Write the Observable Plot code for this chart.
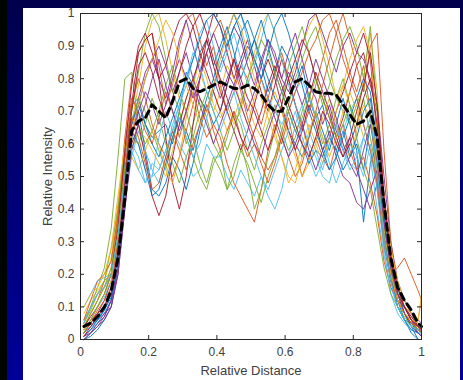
<!DOCTYPE html>
<html>
<head>
<meta charset="utf-8">
<script src="https://cdn.jsdelivr.net/npm/d3@7"></script>
<script src="https://cdn.jsdelivr.net/npm/@observablehq/plot@0.6"></script>
<style>
  html, body { margin: 0; padding: 0; }
  body { width: 463px; height: 380px; position: relative; overflow: hidden;
         background: linear-gradient(to bottom, #00004c 0%, #000070 40%, #000098 100%); }
  #strip { position: absolute; left: 0; top: 0; width: 7px; height: 380px; background: #000500; }
  #panel { position: absolute; left: 23px; top: 8px; width: 437px; height: 372px; background: #fff; }
  #chart { position: absolute; left: 0; top: 0; }
  svg { display: block; }
</style>
</head>
<body>
<div id="strip"></div>
<div id="panel"></div>
<div id="chart"></div>
<script>
const xPos = [0.01,0.03,0.05,0.07,0.09,0.11,0.13,0.15,0.17,0.19,
              0.21,0.23,0.25,0.27,0.29,0.31,0.33,0.35,0.37,0.39,
              0.41,0.43,0.45,0.47,0.49,0.51,0.53,0.55,0.57,0.59,
              0.61,0.63,0.65,0.67,0.69,0.71,0.73,0.75,0.77,0.79,
              0.81,0.83,0.85,0.87,0.89,0.91,0.93,0.95,0.97,0.99,1.0];

const meanProfile = [0.04,0.05,0.07,0.10,0.15,0.25,0.43,0.64,0.67,0.68,
                     0.72,0.70,0.68,0.73,0.79,0.80,0.77,0.76,0.77,0.78,
                     0.79,0.78,0.77,0.77,0.78,0.77,0.75,0.72,0.70,0.70,
                     0.74,0.79,0.80,0.78,0.76,0.755,0.755,0.75,0.72,0.69,
                     0.66,0.67,0.70,0.62,0.42,0.25,0.16,0.12,0.09,0.05,0.04];

const lineColors = ["#0072BD","#D95319","#EDB120","#7E2F8E","#77AC30","#4DBEEE","#A2142F"];

const profiles = [
 [0.02,0.04,0.06,0.09,0.14,0.30,0.55,0.72,0.74,0.66, 0.62,0.64,0.66,0.60,0.70,0.82,0.78,0.88,0.92,0.84, 0.90,0.96,0.88,0.80,0.86,0.92,0.84,0.76,0.82,0.90, 0.86,0.78,0.84,0.74,0.68,0.72,0.62,0.58,0.64,0.56, 0.60,0.52,0.66,0.58,0.38,0.22,0.12,0.06,0.05,0.02, 0.01],
 [0.05,0.10,0.14,0.16,0.20,0.38,0.62,0.80,0.88,0.92, 0.94,0.84,0.72,0.78,0.90,0.98,1.00,0.92,0.84,0.90, 0.78,0.70,0.76,0.84,0.80,0.72,0.66,0.74,0.82,0.88, 0.80,0.72,0.64,0.70,0.78,0.86,0.94,0.98,0.90,0.82, 0.76,0.84,0.70,0.46,0.28,0.20,0.22,0.25,0.20,0.15, 0.12],
 [0.08,0.12,0.15,0.18,0.25,0.42,0.58,0.66,0.78,0.90, 0.98,1.00,0.92,0.82,0.74,0.70,0.78,0.86,0.80,0.72, 0.68,0.72,0.66,0.70,0.80,0.88,0.96,1.00,0.94,0.86, 0.78,0.84,0.90,0.96,1.00,0.92,0.84,0.74,0.78,0.72, 0.66,0.80,0.94,0.76,0.42,0.26,0.16,0.12,0.08,0.06, 0.12],
 [0.01,0.03,0.05,0.07,0.12,0.24,0.48,0.66,0.74,0.82, 0.86,0.80,0.74,0.82,0.92,0.98,0.90,0.82,0.88,0.80, 0.74,0.80,0.86,0.78,0.70,0.76,0.84,0.92,0.86,0.80, 0.88,0.94,0.86,0.78,0.74,0.66,0.72,0.64,0.58,0.62, 0.52,0.46,0.40,0.48,0.34,0.20,0.14,0.10,0.08,0.04, 0.03],
 [0.06,0.10,0.16,0.22,0.34,0.56,0.80,0.82,0.66,0.60, 0.64,0.58,0.52,0.62,0.70,0.60,0.66,0.74,0.68,0.60, 0.56,0.62,0.70,0.66,0.58,0.52,0.60,0.66,0.72,0.64, 0.58,0.62,0.70,0.76,0.68,0.60,0.66,0.74,0.80,0.72, 0.66,0.74,0.62,0.50,0.30,0.18,0.12,0.10,0.07,0.05, 0.04],
 [0.10,0.14,0.18,0.19,0.20,0.30,0.48,0.62,0.60,0.52, 0.50,0.52,0.58,0.64,0.60,0.56,0.50,0.52,0.60,0.56, 0.56,0.50,0.46,0.52,0.48,0.44,0.50,0.44,0.40,0.46, 0.56,0.66,0.72,0.64,0.58,0.52,0.60,0.66,0.58,0.54, 0.52,0.62,0.56,0.40,0.26,0.16,0.10,0.08,0.06,0.04, 0.05],
 [0.03,0.06,0.08,0.10,0.16,0.28,0.50,0.72,0.88,0.92, 0.94,0.80,0.62,0.48,0.40,0.50,0.66,0.80,0.92,1.00, 0.96,0.88,0.80,0.86,0.92,0.84,0.76,0.70,0.78,0.86, 0.80,0.72,0.66,0.74,0.82,0.76,0.70,0.62,0.68,0.76, 0.84,0.88,0.78,0.70,0.44,0.24,0.14,0.10,0.07,0.04, 0.02],
 [0.00,0.02,0.05,0.08,0.12,0.26,0.50,0.68,0.70,0.58, 0.46,0.44,0.48,0.56,0.52,0.46,0.54,0.64,0.72,0.66, 0.70,0.78,0.86,0.94,0.98,0.92,0.86,0.80,0.74,0.70, 0.64,0.60,0.56,0.62,0.70,0.64,0.58,0.66,0.74,0.66, 0.58,0.36,0.54,0.60,0.40,0.24,0.16,0.08,0.04,0.00, 0.00],
 [0.03,0.08,0.12,0.18,0.20,0.36,0.60,0.74,0.70,0.64, 0.60,0.68,0.76,0.70,0.62,0.70,0.76,0.68,0.62,0.66, 0.62,0.54,0.48,0.44,0.40,0.36,0.46,0.58,0.66,0.60, 0.68,0.58,0.50,0.56,0.62,0.56,0.52,0.60,0.66,0.58, 0.52,0.56,0.48,0.38,0.24,0.16,0.12,0.08,0.06,0.03, 0.02],
 [0.04,0.08,0.12,0.16,0.22,0.40,0.52,0.58,0.64,0.62, 0.58,0.54,0.50,0.58,0.66,0.74,0.80,0.74,0.70,0.76, 0.70,0.64,0.68,0.74,0.72,0.66,0.62,0.70,0.76,0.70, 0.62,0.56,0.50,0.54,0.60,0.68,0.74,0.66,0.60,0.56, 0.64,0.72,0.68,0.52,0.36,0.22,0.14,0.10,0.08,0.05, 0.04],
 [0.02,0.04,0.06,0.08,0.10,0.20,0.40,0.62,0.72,0.80, 0.86,0.90,0.84,0.76,0.82,0.88,0.80,0.74,0.70,0.78, 0.84,0.90,0.96,0.92,0.84,0.78,0.86,0.92,0.88,0.80, 0.76,0.82,0.90,0.98,1.00,0.94,0.88,0.82,0.90,0.94, 0.88,0.86,0.80,0.72,0.50,0.30,0.18,0.12,0.08,0.06, 0.05],
 [0.05,0.09,0.14,0.18,0.28,0.40,0.60,0.70,0.82,0.94, 1.00,0.96,0.86,0.76,0.70,0.62,0.56,0.50,0.46,0.54, 0.58,0.46,0.54,0.60,0.52,0.40,0.46,0.56,0.64,0.72, 0.84,0.90,0.96,0.88,0.80,0.72,0.78,0.86,0.92,0.96, 0.90,0.80,0.96,0.70,0.40,0.22,0.14,0.10,0.06,0.03, 0.02],
 [0.02,0.04,0.06,0.10,0.14,0.24,0.42,0.56,0.64,0.58, 0.52,0.48,0.56,0.66,0.72,0.78,0.86,0.94,0.98,0.90, 0.82,0.88,0.94,0.86,0.78,0.84,0.92,1.00,0.94,0.86, 0.78,0.72,0.66,0.60,0.56,0.50,0.48,0.56,0.64,0.70, 0.74,0.66,0.58,0.46,0.30,0.18,0.12,0.08,0.06,0.04, 0.03],
 [0.02,0.05,0.08,0.12,0.18,0.30,0.46,0.60,0.66,0.56, 0.44,0.38,0.44,0.56,0.66,0.74,0.80,0.86,0.92,0.84, 0.76,0.70,0.64,0.58,0.64,0.72,0.80,0.86,0.80,0.72, 0.64,0.58,0.64,0.72,0.66,0.58,0.62,0.70,0.76,0.82, 0.88,0.94,0.86,0.62,0.36,0.20,0.12,0.08,0.05,0.03, 0.02],
 [0.00,0.01,0.03,0.06,0.10,0.22,0.44,0.64,0.60,0.52, 0.44,0.46,0.54,0.62,0.68,0.64,0.58,0.66,0.74,0.80, 0.88,0.94,1.00,0.94,0.86,0.92,0.98,0.90,0.82,0.76, 0.70,0.64,0.60,0.54,0.58,0.56,0.62,0.58,0.52,0.56, 0.62,0.70,0.74,0.56,0.38,0.20,0.10,0.06,0.02,0.00, 0.00],
 [0.06,0.12,0.18,0.20,0.24,0.38,0.56,0.72,0.80,0.74, 0.66,0.60,0.56,0.50,0.56,0.64,0.72,0.80,0.88,0.94, 0.98,0.92,0.84,0.76,0.68,0.62,0.56,0.52,0.56,0.62, 0.56,0.50,0.54,0.62,0.70,0.78,0.86,0.94,1.00,0.92, 0.84,0.76,0.90,0.94,0.58,0.30,0.16,0.10,0.06,0.04, 0.03],
 [0.10,0.14,0.16,0.20,0.28,0.44,0.60,0.56,0.52,0.58, 0.64,0.60,0.52,0.48,0.56,0.68,0.76,0.82,0.76,0.70, 0.76,0.84,0.80,0.72,0.66,0.74,0.80,0.72,0.64,0.56, 0.48,0.52,0.60,0.66,0.60,0.54,0.62,0.70,0.78,0.86, 0.92,0.96,0.88,0.64,0.44,0.28,0.18,0.12,0.08,0.06, 0.14],
 [0.01,0.02,0.04,0.07,0.12,0.22,0.44,0.62,0.70,0.76, 0.72,0.66,0.72,0.80,0.86,0.80,0.74,0.80,0.88,0.94, 0.88,0.82,0.78,0.84,0.90,0.86,0.80,0.74,0.68,0.62, 0.56,0.60,0.66,0.58,0.52,0.58,0.64,0.56,0.50,0.48, 0.42,0.40,0.46,0.52,0.30,0.18,0.12,0.10,0.06,0.02, 0.01],
 [0.04,0.08,0.12,0.16,0.22,0.34,0.50,0.66,0.74,0.70, 0.64,0.70,0.78,0.84,0.76,0.70,0.62,0.54,0.48,0.56, 0.52,0.46,0.50,0.58,0.54,0.48,0.42,0.50,0.56,0.64, 0.72,0.80,0.86,0.92,0.96,0.88,0.80,0.74,0.70,0.66, 0.72,0.78,0.70,0.54,0.32,0.20,0.14,0.08,0.05,0.03, 0.02],
 [0.03,0.06,0.10,0.13,0.18,0.28,0.46,0.60,0.56,0.48, 0.54,0.52,0.58,0.64,0.68,0.62,0.56,0.60,0.68,0.76, 0.84,0.90,0.96,1.00,0.92,0.86,0.80,0.74,0.70,0.66, 0.70,0.76,0.80,0.74,0.68,0.62,0.54,0.48,0.54,0.60, 0.56,0.50,0.60,0.48,0.28,0.14,0.08,0.05,0.03,0.02, 0.02],
 [0.04,0.07,0.10,0.14,0.20,0.34,0.58,0.78,0.90,0.94, 0.88,0.80,0.84,0.92,0.98,1.00,0.96,0.88,0.82,0.76, 0.70,0.78,0.86,0.80,0.74,0.70,0.64,0.58,0.64,0.72, 0.80,0.86,0.92,0.88,0.80,0.74,0.68,0.62,0.56,0.60, 0.66,0.74,0.80,0.66,0.42,0.24,0.14,0.10,0.06,0.04, 0.03],
 [0.01,0.03,0.06,0.09,0.13,0.26,0.48,0.66,0.72,0.66, 0.60,0.56,0.62,0.68,0.74,0.80,0.86,0.92,0.98,1.00, 0.96,0.90,0.96,1.00,0.94,0.86,0.80,0.88,0.96,1.00, 0.94,0.86,0.78,0.70,0.64,0.58,0.52,0.56,0.62,0.68, 0.74,0.80,0.76,0.60,0.34,0.18,0.10,0.06,0.03,0.02, 0.01],
 [0.02,0.05,0.09,0.12,0.16,0.30,0.52,0.68,0.62,0.54, 0.46,0.48,0.56,0.64,0.58,0.52,0.60,0.66,0.72,0.64, 0.58,0.64,0.70,0.62,0.56,0.60,0.54,0.48,0.54,0.62, 0.70,0.76,0.82,0.88,0.92,0.98,1.00,0.94,0.86,0.80, 0.74,0.66,0.58,0.48,0.30,0.18,0.12,0.08,0.05,0.04, 0.03],
 [0.03,0.06,0.10,0.14,0.18,0.32,0.50,0.64,0.72,0.80, 0.86,0.92,0.98,0.94,0.86,0.78,0.72,0.66,0.70,0.78, 0.86,0.94,1.00,0.96,0.88,0.80,0.74,0.68,0.62,0.56, 0.50,0.48,0.56,0.64,0.70,0.62,0.56,0.62,0.70,0.76, 0.70,0.62,0.68,0.56,0.34,0.20,0.12,0.08,0.06,0.05, 0.04],
 [0.00,0.02,0.04,0.06,0.10,0.20,0.40,0.58,0.66,0.72, 0.80,0.86,0.78,0.70,0.64,0.70,0.78,0.72,0.66,0.60, 0.66,0.72,0.78,0.72,0.66,0.60,0.56,0.64,0.70,0.76, 0.82,0.78,0.72,0.78,0.86,0.80,0.74,0.68,0.60,0.54, 0.50,0.58,0.66,0.54,0.36,0.22,0.14,0.08,0.04,0.02, 0.01],
 [0.02,0.06,0.10,0.14,0.20,0.32,0.52,0.62,0.60,0.66, 0.74,0.68,0.60,0.54,0.48,0.56,0.62,0.70,0.76,0.70, 0.64,0.58,0.64,0.72,0.80,0.86,0.92,0.88,0.82,0.76, 0.70,0.64,0.68,0.74,0.80,0.74,0.68,0.62,0.66,0.72, 0.62,0.52,0.46,0.34,0.22,0.14,0.10,0.07,0.04,0.03, 0.02],
 [0.05,0.10,0.14,0.16,0.20,0.32,0.50,0.58,0.52,0.48, 0.50,0.62,0.70,0.64,0.72,0.80,0.88,0.84,0.76,0.70, 0.64,0.70,0.76,0.68,0.62,0.56,0.50,0.46,0.52,0.58, 0.64,0.70,0.62,0.56,0.50,0.54,0.60,0.66,0.58,0.52, 0.56,0.62,0.68,0.52,0.30,0.18,0.10,0.06,0.04,0.03, 0.04],
 [0.01,0.04,0.07,0.10,0.14,0.26,0.48,0.70,0.84,0.88, 0.82,0.74,0.68,0.74,0.82,0.90,0.96,1.00,0.94,0.86, 0.80,0.74,0.68,0.62,0.58,0.64,0.70,0.78,0.84,0.78, 0.72,0.66,0.60,0.56,0.62,0.70,0.66,0.60,0.56,0.62, 0.70,0.78,0.88,0.72,0.44,0.26,0.16,0.10,0.06,0.04, 0.03]
];

const xTicks = [0, 0.2, 0.4, 0.6, 0.8, 1];
const yTicks = [0, 0.1, 0.2, 0.3, 0.4, 0.5, 0.6, 0.7, 0.8, 0.9, 1];

const rows = [];
profiles.forEach((p, k) => p.forEach((v, i) => rows.push({x: xPos[i], y: v, k, c: lineColors[k % lineColors.length]})));
const meanRows = meanProfile.map((v, i) => ({x: xPos[i], y: v}));

const W = 463, H = 380;
const mL = 80, mR = 42, mT = 13, mB = 41;
const fw = W - mL - mR, fh = H - mT - mB;
const tk = 4;
const axisColor = "#262626";
const textColor = "#404040";
const fmt = d => String(d);

const chart = Plot.plot({
  width: W, height: H,
  marginLeft: mL, marginRight: mR, marginTop: mT, marginBottom: mB,
  style: {fontFamily: "'Liberation Sans', Arial, sans-serif", fontSize: "12px", color: textColor, background: "transparent"},
  x: {domain: [0, 1]},
  y: {domain: [0, 1]},
  color: {type: "identity"},
  marks: [
    Plot.line(rows, {x: "x", y: "y", z: "k", stroke: "c", strokeWidth: 1, strokeOpacity: 0.9}),
    Plot.line(meanRows, {x: "x", y: "y", stroke: "black", strokeWidth: 3, strokeDasharray: "7,5"}),
    Plot.frame({stroke: axisColor, strokeWidth: 1}),
    Plot.tickX(xTicks, {x: d => d, insetTop: fh - tk, stroke: axisColor}),
    Plot.tickX(xTicks, {x: d => d, insetBottom: fh - tk, stroke: axisColor}),
    Plot.tickY(yTicks, {y: d => d, insetRight: fw - tk, stroke: axisColor}),
    Plot.tickY(yTicks, {y: d => d, insetLeft: fw - tk, stroke: axisColor}),
    Plot.axisX(xTicks, {tickSize: 0, tickPadding: 8, label: null, tickFormat: fmt, fill: textColor, fontSize: 12}),
    Plot.axisY(yTicks, {tickSize: 0, tickPadding: 6, label: null, tickFormat: fmt, fill: textColor, fontSize: 12}),
    Plot.text(["Relative Distance"], {frameAnchor: "bottom", dy: 31, textAnchor: "middle", lineAnchor: "middle", fontSize: 13, fill: textColor}),
    Plot.text(["Relative Intensity"], {frameAnchor: "left", dx: -33, rotate: -90, textAnchor: "middle", lineAnchor: "middle", fontSize: 13, fill: textColor})
  ]
});
document.getElementById("chart").appendChild(chart);
</script>
</body>
</html>
